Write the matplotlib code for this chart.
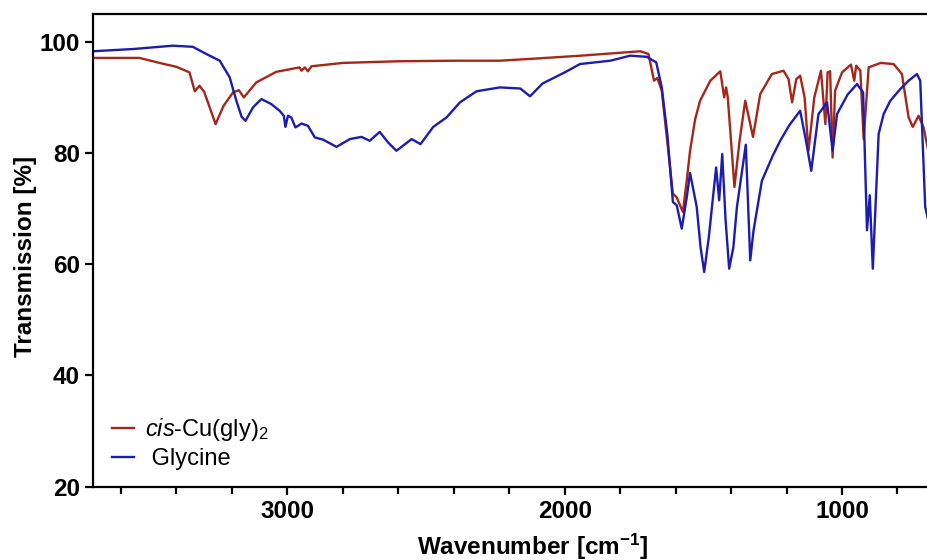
import matplotlib
matplotlib.use("Agg")
import matplotlib.pyplot as plt

plt.rcParams['font.family'] = ['Liberation Sans', 'DejaVu Sans']
plt.rcParams['mathtext.fontset'] = 'custom'
plt.rcParams['mathtext.rm'] = 'Liberation Sans'
plt.rcParams['mathtext.it'] = 'Liberation Sans:italic'
plt.rcParams['mathtext.bf'] = 'Liberation Sans:bold'

# cis-Cu(gly)2 : wavenumber [cm-1], transmission [%]
cu_wn = [3702, 3533, 3461, 3400, 3353, 3334, 3317, 3300, 3259, 3230, 3196, 3175,
         3157, 3112, 3040, 2956, 2949, 2937, 2926, 2913, 2800, 2600, 2400, 2234,
         2100, 1944, 1727, 1698, 1678, 1666, 1650, 1630, 1610, 1596, 1574, 1560,
         1548, 1530, 1512, 1475, 1439, 1425, 1418, 1412, 1400, 1388, 1370, 1349,
         1321, 1295, 1253, 1211, 1193, 1180, 1165, 1151, 1135, 1121, 1100, 1076,
         1060, 1052, 1043, 1034, 1025, 1000, 968, 956, 949, 934, 922, 904, 861,
         814, 784, 760, 745, 724, 706, 689]
cu_t = [97.1, 97.1, 96.2, 95.5, 94.5, 91.1, 92.1, 91.0, 85.2, 88.5, 90.9, 91.3,
        90.0, 92.7, 94.6, 95.4, 94.8, 95.4, 94.7, 95.6, 96.2, 96.5, 96.6, 96.6,
        97.0, 97.5, 98.3, 97.8, 93.0, 93.5, 91.2, 82.0, 72.7, 72.0, 69.4, 75.0,
        80.4, 86.0, 89.4, 93.0, 94.7, 90.0, 91.8, 90.0, 82.0, 73.9, 82.0, 89.4,
        82.9, 90.6, 94.2, 94.8, 93.3, 89.1, 93.3, 93.9, 90.0, 80.4, 90.0, 94.8,
        85.2, 94.5, 94.7, 79.2, 91.2, 94.5, 95.9, 93.0, 95.7, 94.8, 82.5, 95.4,
        96.2, 96.0, 94.2, 86.4, 84.7, 86.7, 84.6, 80.4]

# Glycine
gly_wn = [3702, 3557, 3413, 3341, 3292, 3244, 3208, 3184, 3165, 3151, 3124, 3094,
          3058, 3028, 3013, 3007, 2998, 2986, 2971, 2949, 2926, 2901, 2871, 2823,
          2775, 2733, 2703, 2667, 2637, 2607, 2552, 2520, 2474, 2426, 2378, 2318,
          2234, 2160, 2125, 2080, 2000, 1945, 1836, 1764, 1704, 1670, 1650, 1630,
          1610, 1596, 1578, 1560, 1548, 1524, 1510, 1497, 1480, 1469, 1454, 1443,
          1432, 1420, 1407, 1392, 1379, 1347, 1331, 1319, 1289, 1250, 1223, 1190,
          1151, 1130, 1111, 1085, 1054, 1034, 1018, 980, 946, 924, 910, 900, 889,
          868, 850, 826, 790, 760, 730, 718, 700, 689]
gly_t = [98.3, 98.7, 99.3, 99.1, 97.8, 96.6, 93.6, 89.4, 86.5, 85.8, 88.2, 89.7,
         88.8, 87.6, 86.7, 84.7, 86.7, 86.4, 84.6, 85.3, 84.9, 82.8, 82.4, 81.1,
         82.5, 82.9, 82.2, 83.8, 81.9, 80.4, 82.5, 81.6, 84.7, 86.4, 89.1, 91.1,
         91.8, 91.6, 90.2, 92.5, 94.5, 96.0, 96.6, 97.5, 97.3, 96.3, 91.8, 83.4,
         71.2, 70.6, 66.4, 72.0, 76.4, 70.3, 63.0, 58.6, 65.0, 70.3, 77.4, 71.5,
         79.8, 68.0, 59.2, 63.0, 70.3, 81.5, 60.7, 66.1, 75.0, 79.5, 82.2, 85.0,
         87.6, 82.2, 76.8, 87.0, 89.1, 80.4, 87.0, 90.5, 92.4, 90.9, 66.1, 72.4,
         59.2, 83.4, 87.0, 89.4, 91.5, 93.0, 94.2, 93.0, 70.3, 67.9]

red = '#a3281c'
blue = '#1c1cae'

fig = plt.figure(figsize=(9.28, 5.6), dpi=100)
ax = fig.add_axes([0.1005, 0.131, 0.8995, 0.844])

ax.plot(cu_wn, cu_t, color=red, lw=1.7, label=r'$\it{cis}$-Cu(gly)$_2$')
ax.plot(gly_wn, gly_t, color=blue, lw=1.7, label=' Glycine')

ax.set_xlim(3700, 690)
ax.set_ylim(20, 105)
ax.set_xticks([3000, 2000, 1000])
ax.set_xticks([3600, 3400, 3200, 2800, 2600, 2400, 2200, 1800, 1600, 1400,
               1200, 800], minor=True)
ax.set_yticks([20, 40, 60, 80, 100])

for s in ['left', 'bottom', 'top']:
    ax.spines[s].set_linewidth(1.6)
ax.spines['right'].set_visible(False)
ax.tick_params(axis='both', which='major', direction='out', length=6, width=1.6,
               labelsize=17.5)
ax.tick_params(axis='x', which='minor', direction='out', length=5, width=1.6)
for lab in ax.get_xticklabels() + ax.get_yticklabels():
    lab.set_fontweight('bold')

ax.set_xlabel(r'Wavenumber [cm$^{\mathbf{-1}}$]', fontsize=17.5, fontweight='bold')
ax.set_ylabel('Transmission [%]', fontsize=17.5, fontweight='bold')
ax.xaxis.set_label_coords(0.526, -0.095)
ax.yaxis.set_label_coords(-0.068, 0.487)

ax.legend(loc='lower left', bbox_to_anchor=(0.011, 0.015), frameon=False,
          fontsize=17, handlelength=0.95, handletextpad=0.45, labelspacing=0.2,
          borderaxespad=0)

fig.savefig('out.png', dpi=100)
